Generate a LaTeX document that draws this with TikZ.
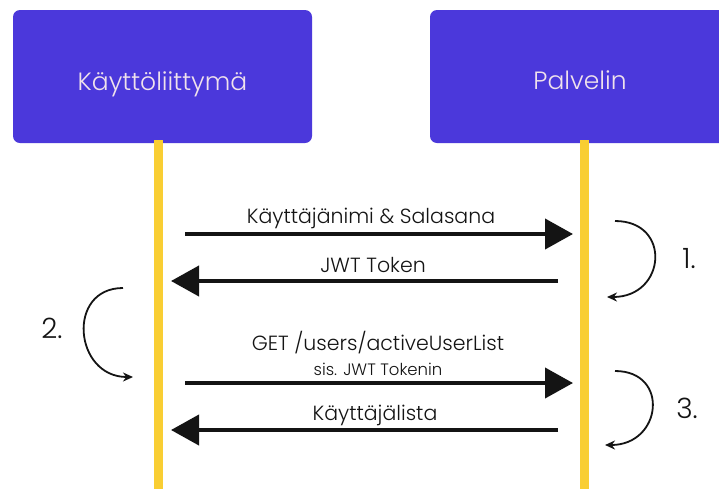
\documentclass[tikz,border=0pt]{standalone}
\usepackage{fontspec}
\setmainfont{Poppins}[UprightFont=* Light]
\usetikzlibrary{arrows.meta}
\definecolor{boxblue}{RGB}{75,56,219}
\definecolor{boxtext}{RGB}{240,226,236}
\definecolor{lifeyellow}{RGB}{249,206,51}
\definecolor{ink}{RGB}{20,20,20}
\tikzset{
  actor/.style={draw=none, fill=boxblue, rounded corners=7pt, minimum width=299pt, minimum height=133pt, inner sep=0pt},
  actortext/.style={text=boxtext, inner sep=0pt, anchor=base, font=\fontsize{25}{28}\selectfont},
  lifeline/.style={draw=lifeyellow, line width=9pt},
  msg/.style={draw=ink, line width=4pt, -{Triangle[length=28pt,width=30pt]}},
  msglabel/.style={text=ink, inner sep=0pt, anchor=base, font=\fontsize{20.5}{24}\selectfont},
  sublabel/.style={text=ink, inner sep=0pt, anchor=base, font=\fontsize{16.5}{19}\selectfont},
  loop/.style={draw=ink, line width=1.8pt, -{Stealth[length=10pt,width=9pt]}},
  steplabel/.style={text=ink, inner sep=0pt, anchor=base, font=\fontsize{28}{31}\selectfont},
}
\begin{document}
\begin{tikzpicture}[x=1pt,y=-1pt]
\useasboundingbox (0,0) rectangle (719,488);
\clip (0,0) rectangle (719,488);
\fill[white] (0,0) rectangle (719,488);
% actors
\node[actor] (ui) at (162.5,76.5) {};
\node[actor] (srv) at (579.5,76.5) {};
\node[actortext] (uit) at (162.5,90) {Käyttöliittymä};
\node[actortext] (srvt) at (580,89) {Palvelin};
% lifelines
\coordinate (ltop) at (158.5,140);
\coordinate (rtop) at (584,140);
\coordinate (lbot) at (158.5,490);
\coordinate (rbot) at (584,490);
\draw[lifeline] (ltop) -- (lbot);
\draw[lifeline] (rtop) -- (rbot);
% message endpoints
\coordinate (a1s) at (185,234);
\coordinate (a1e) at (573,234);
\coordinate (a2s) at (558,281);
\coordinate (a2e) at (171,281);
\coordinate (a3s) at (185,383);
\coordinate (a3e) at (573,383);
\coordinate (a4s) at (558,430);
\coordinate (a4e) at (171,430);
\draw[msg] (a1s) -- (a1e);
\draw[msg] (a2s) -- (a2e);
\draw[msg] (a3s) -- (a3e);
\draw[msg] (a4s) -- (a4e);
\node[msglabel] (l1) at (371,223) {Käyttäjänimi \& Salasana};
\node[msglabel] (l2) at (373,272) {JWT Token};
\node[msglabel] (l3) at (378,350) {GET /users/activeUserList};
\node[sublabel] (l3b) at (378,375) {sis. JWT Tokenin};
\node[msglabel] (l4) at (375,420) {Käyttäjälista};
% loops
\coordinate (c1s) at (615,221);
\coordinate (c1e) at (607,297);
\coordinate (c2s) at (123,288);
\coordinate (c2e) at (133,377);
\coordinate (c3s) at (615,371);
\coordinate (c3e) at (605,445);
\draw[loop] (c1s) .. controls (672,221) and (666,297) .. (c1e);
\draw[loop] (c2s) .. controls (66,288) and (74,377) .. (c2e);
\draw[loop] (c3s) .. controls (670,371) and (662,445) .. (c3e);
\node[steplabel] (n1) at (689,268) {1.};
\node[steplabel] (n2) at (52,338) {2.};
\node[steplabel] (n3) at (687,418) {3.};
\end{tikzpicture}
\end{document}
